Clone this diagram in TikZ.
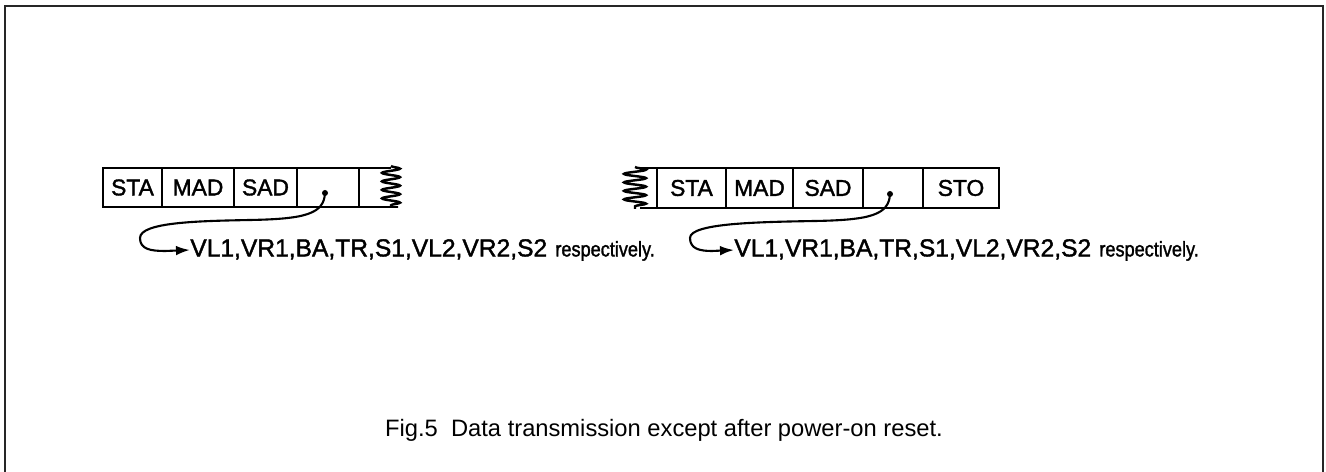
\documentclass[tikz,border=0pt]{standalone}
\usepackage{fontspec}
\setmainfont{Liberation Sans}
\newfontfamily\inkfont{Liberation Sans}[FakeBold=1.6]
\usepackage{tikz}
\usetikzlibrary{positioning,arrows.meta,decorations.pathmorphing}
\newlength\px
\setlength\px{0.02cm}

\begin{document}
\begin{tikzpicture}[x=0.02cm, y=-0.02cm,
    cell/.style={draw, line width=0.9pt, inner sep=0pt, outer sep=0pt,
      font=\inkfont\fontsize{13}{15}\selectfont},
    wiggle/.style={line width=1.4pt, decorate,
      decoration={snake, segment length=8.5\px, amplitude=9\px}},
    hookline/.style={line width=1.2pt, -{Latex[length=8pt, width=5.5pt]}},
    fields/.style={anchor=west, inner sep=0pt, font=\inkfont\fontsize{14}{16}\selectfont}]

\useasboundingbox (0,0) rectangle (1326,472);

%% -- outer frame (open at the foot) --
\draw[line width=1.1pt, black!85] (5,472) -- (5,6) -- (1323,6) -- (1323,472);

%% -- LEFT frame sequence --
\node[cell, minimum width=59\px, minimum height=39\px] (sta1) at (132.5,187.5) {STA};
\node[cell, minimum width=72\px, minimum height=39\px, right=0pt of sta1] (mad1) {MAD};
\node[cell, minimum width=63\px, minimum height=39\px, right=0pt of mad1] (sad1) {SAD};
\node[cell, minimum width=62\px, minimum height=39\px, right=0pt of sad1] (blk1) {};
\coordinate (cut1t) at (391,166);
\coordinate (cut1b) at (391,208);
\draw[line width=0.9pt] (blk1.north east) -- (391,168);
\draw[line width=0.9pt] (blk1.south east) -- (398,207);
\draw[wiggle] (cut1t) -- (cut1b);

% comma-hook into the field list
\coordinate (dot1) at (325,193);
\fill (dot1) circle (3\px);
\node[fields] (data1) at (190,250)
  {VL1,VR1,BA,TR,S1,VL2,VR2,S2\,\,\fontsize{12}{14}\selectfont\scalebox{0.86}[1]{respectively.}};
\draw[hookline] (dot1) .. controls (324,214) and (305,219) .. (250,220)
  .. controls (200,221) and (140,222) .. (140,238)
  .. controls (140,249) and (150,251) .. (165,251) -- (data1.west);

%% -- RIGHT frame sequence --
\node[cell, minimum width=69\px, minimum height=40\px] (sta2) at (691.5,188) {STA};
\node[cell, minimum width=67\px, minimum height=40\px, right=0pt of sta2] (mad2) {MAD};
\node[cell, minimum width=70\px, minimum height=40\px, right=0pt of mad2] (sad2) {SAD};
\node[cell, minimum width=60\px, minimum height=40\px, right=0pt of sad2] (blk2) {};
\node[cell, minimum width=76\px, minimum height=40\px, right=0pt of blk2] (sto2) {STO};
\coordinate (cut2t) at (635,167);
\coordinate (cut2b) at (635,209);
\draw[line width=0.9pt] (sta2.north west) -- (640,168);
\draw[line width=0.9pt] (sta2.south west) -- (640,208);
\draw[wiggle, decoration={amplitude=11\px}] (cut2t) -- (cut2b);

% comma-hook into the field list
\coordinate (dot2) at (890,194);
\fill (dot2) circle (3\px);
\node[fields] (data2) at (734,250)
  {VL1,VR1,BA,TR,S1,VL2,VR2,S2\,\,\fontsize{12}{14}\selectfont\scalebox{0.86}[1]{respectively.}};
\draw[hookline] (dot2) .. controls (889,215) and (870,220) .. (815,221)
  .. controls (760,222) and (690,223) .. (690,238)
  .. controls (690,249) and (700,251) .. (712,251) -- (data2.west);

%% -- caption --
\node[font=\fontsize{13.5}{16}\selectfont] (caption) at (664,430)
  {Fig.5\ \ Data transmission except after power-on reset.};

\end{tikzpicture}
\end{document}
